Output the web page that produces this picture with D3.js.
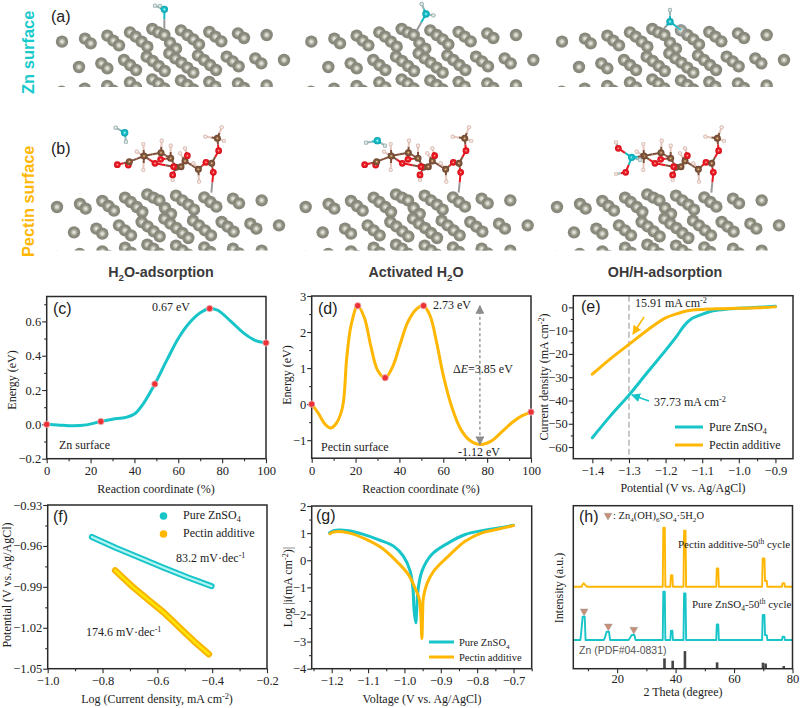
<!DOCTYPE html>
<html><head><meta charset="utf-8">
<script src="https://cdn.jsdelivr.net/npm/d3@7"></script>
<style>html,body{margin:0;padding:0;background:#fff}svg{display:block}text{font-family:"Liberation Serif",serif;fill:#222}</style>
</head><body><svg id="c" width="800" height="708"></svg>
<script>
const TEAL="#17c4c8", AMBER="#ffb703", RED="#ee2f36", FRAME="#2a2a2a";
// ---- panel c
const cX=[0,5,12,18,24.7,30,36,40,44,49.3,55,60,65,70,74.3,78,84,90,95,100];
const cY=[0,-0.003,-0.008,-0.003,0.017,0.03,0.04,0.06,0.12,0.235,0.38,0.5,0.59,0.65,0.675,0.665,0.6,0.53,0.49,0.475];
const cDotsX=[0,24.7,49.3,74.3,100], cDotsY=[0,0.017,0.235,0.675,0.475];
// ---- panel d
const dX=[0,3,6,8.5,11,14,16,18,21,24,27,30,33.5,37,40,44,48,51,54,57,60,64,68,72,77,82,87,92,96,100];
const dY=[0,-0.25,-0.55,-0.66,-0.55,-0.1,1.3,2.2,2.73,2.4,1.6,0.95,0.73,1.05,1.6,2.3,2.65,2.73,2.45,1.7,0.8,-0.1,-0.7,-1.0,-1.12,-1.02,-0.75,-0.48,-0.32,-0.22];
const dDotsX=[0,21,33.5,51,100], dDotsY=[0,2.73,0.73,2.73,-0.22];
// ---- panel e
const eTealX=[-1.4,-1.35,-1.3,-1.25,-1.2,-1.17,-1.15,-1.13,-1.1,-1.07,-1.03,-1,-0.95,-0.9];
const eTealY=[-56,-46.5,-37.7,-28,-18.5,-12.5,-8,-5,-3,-1.5,-0.7,-0.4,0,0.5];
const eAmberX=[-1.4,-1.35,-1.3,-1.25,-1.2,-1.17,-1.14,-1.1,-1.05,-1,-0.95,-0.9];
const eAmberY=[-28.7,-22,-15.9,-9.8,-4.5,-2.8,-1.5,-0.9,-0.6,-0.4,-0.2,0.2];
// ---- panel f
const fTealX=[-0.839,-0.75,-0.66,-0.577,-0.49,-0.402];
const fTealY=[-0.9534,-0.9615,-0.969,-0.976,-0.983,-0.9895];
const fAmberX=[-0.754,-0.69,-0.63,-0.577,-0.51,-0.46,-0.412];
const fAmberY=[-0.978,-0.99,-1.0,-1.0087,-1.0215,-1.031,-1.0394];
// ---- panel g
const gTealX=[-1.206,-1.195,-1.154,-1.117,-1.072,-1.03,-1.003,-0.984,-0.976,-0.974,-0.969,-0.966,-0.963,-0.952,-0.925,-0.879,-0.833,-0.787,-0.741,-0.7];
const gTealY=[1.01,1.09,1.09,0.97,0.76,0.52,0.15,-0.41,-1.14,-1.76,-2.31,-1.76,-1.14,-0.41,0.21,0.64,0.95,1.09,1.19,1.29];
const gAmberX=[-1.205,-1.195,-1.154,-1.108,-1.062,-1.017,-0.989,-0.971,-0.96,-0.955,-0.952,-0.95,-0.948,-0.939,-0.92,-0.879,-0.833,-0.787,-0.741,-0.7];
const gAmberY=[0.97,1.04,1.01,0.79,0.45,-0.1,-0.53,-1.02,-1.39,-2.0,-2.89,-2.0,-1.39,-0.9,-0.41,0.15,0.7,1.01,1.15,1.28];
// ---- panel h (stacked, arbitrary units)
const hPectinX=[5,7.9,8.1,8.5,9.2,9.6,35.6,35.8,36.3,36.5,38.2,38.4,38.9,39.1,42.7,42.9,43.4,43.6,53.9,54.1,54.6,54.8,69.6,69.8,70.4,70.6,71.2,71.4,76.4,76.6,77.2,77.4,80];
const hPectinY=[50.3,50.3,51.5,52.4,51.2,50.3,50.3,86.5,86.5,50.3,50.3,57.3,57.3,50.3,50.3,84.7,84.7,50.3,50.3,61.5,61.5,50.3,50.3,67.7,67.7,53.8,53.8,50.3,50.3,52.5,52.5,50.3,50.3];
const hTealX=[5,7.4,7.7,8.2,8.9,9.2,15.4,15.8,16.4,17.2,17.6,23.9,24.3,25,25.9,26.3,35.6,35.8,36.3,36.5,38.2,38.4,38.9,39.1,42.7,42.9,43.4,43.6,53.9,54.1,54.6,54.8,69.6,69.8,70.4,70.6,71.2,71.4,76.4,76.6,77.2,77.4,80];
const hTealY=[17.6,17.6,22,31.9,31.9,17.6,17.6,19,22.7,22.7,17.6,17.6,18.6,20.7,20.7,17.6,17.6,47.2,47.2,17.6,17.6,23.3,23.3,17.6,17.6,46.2,46.2,17.6,17.6,27.2,27.2,17.6,17.6,32.9,32.9,20.6,20.6,17.6,17.6,19.6,19.6,17.6,17.6];
const hBarsX=[36.2,39,43.2,54.2,69.9,70.8,77];
const hBarsY=[6.3,4.9,10.8,3.9,3.7,3.2,1.6];
const hMarkX=[8.7,17,25.7], hMarkY=[35.2,26,24];
// ---- atomistic panels (coordinates in a 1200-wide frame per row, drawn through atomX / atomY)
const latticeX=[186,255,272,322,340,357,390,407,425,442,457,475,493,510,528,543,562,580,597,628,646,664,714,732,800,
 237,304,322,372,390,408,440,458,476,494,508,526,544,562,580,594,612,630,648,680,698,716,766,784,852,
 185,254,322,340,390,408,457,475,493,543,562,580,628,646,714,732,800];
const latticeY=[125,116,130,107,122,136,97,110,125,140,87,97,105,128,146,91,105,118,133,96,110,124,100,114,105,
 201,190,205,180,195,210,170,183,198,213,160,175,188,203,218,166,180,195,210,170,184,199,175,190,180,
 275,266,258,272,247,262,238,250,265,241,255,268,246,260,250,264,256];
const latticeShiftsA=[[0,0],[748,0],[1500,0]];
const latticeShiftsB=[[-15,496],[731,496],[1485,496]];
const molIds=["O1","O2","C1","C2","C3","C4","C5","C6","C10","O3","O4","O5","O6","O10","C7","O7","C8","O8","O9","C9","H1","H2","H3","H4","H5","H6","H7","H8","H9","H10","H11","H12","H13"];
const molEls=["O","O","C","C","C","C","C","C","C","O","O","O","O","O","C","O","C","O","O","C","H","H","H","H","H","H","H","H","H","H","H","H","H"];
const molX=[352,385,388,432,483,512,528,543,555,465,482,562,518,521,595,618,635,640,656,652,430,410,430,485,512,540,555,518,597,616,665,672,580];
const molY=[494,495,485,468,458,475,502,500,483,490,478,467,525,500,508,487,490,517,452,415,432,455,510,422,437,460,445,540,545,410,382,423,490];
const molBonds=[["O1","C1"],["O2","C1"],["C1","C2"],["C2","C3"],["C2","O3"],["O3","C5"],["C3","C4"],["C4","O4"],["C4","C5"],["C5","C6"],["C6","C10"],["C10","O5"],["C5","O6"],["C5","O10"],["C10","C7"],["C7","O7"],["O7","C8"],["C8","O8"],["C8","O9"],["O9","C9"],["C2","H1"],["C2","H2"],["C2","H3"],["C3","H4"],["C4","H5"],["C10","H6"],["O5","H7"],["O6","H8"],["C7","H9"],["C9","H10"],["C9","H11"],["C9","H12"],["C7","H13"]];
const adsEls=[["W","H","H"],["W","H","H"],["W","H","H2"],["W","H","H"],["W","H","H"],["O","H","O","H","W","H"]];
const adsX=[[493,465,480],[1278,1265,1300],[2010,2010,2043],[374,347,378],[1132,1098,1155],[1855,1848,1877,1848,1895,1920]];
const adsY=[[28,17,18],[42,12,46],[65,30,90],[398,383,425],[422,428,437],[445,427,517,522,472,480]];
const adsBonds=[[[0,1],[0,2]],[[0,1],[0,2]],[[0,1],[0,2]],[[0,1],[0,2]],[[0,1],[0,2]],[[4,0],[0,1],[4,2],[2,3],[4,5]]];
const tetherX=[[493,493],[1278,1250],[2010,1990]], tetherY=[[28,88],[42,92],[65,88]];
const molShifts=[0,742,1500];

const svg=d3.select("#c");
const defs=svg.append("defs");
function grad(id,stops){const g=defs.append("radialGradient").attr("id",id).attr("cx","50%").attr("cy","50%").attr("r","50%");
 stops.forEach(([o,c])=>g.append("stop").attr("offset",o).attr("stop-color",c));}
grad("zn",[["0%","#f2f2ec"],["30%","#c4c4b8"],["60%","#8c8c7e"],["100%","#85857a"]]);
grad("O",[["0%","#ffc8c0"],["35%","#ef2028"],["100%","#d2101a"]]);
grad("C",[["0%","#f3cf9f"],["40%","#8a5c3e"],["100%","#6a4530"]]);
grad("H",[["0%","#ffffff"],["50%","#efd9d2"],["100%","#c9a89e"]]);
grad("W",[["0%","#d8ffff"],["40%","#18c2cc"],["100%","#0c9faa"]]);
grad("Hw",[["0%","#ffffff"],["50%","#c6d6d6"],["100%","#84a0a0"]]);
const atomX=d3.scaleLinear().domain([0,1200]).range([0,400]);
const atomY=d3.scaleLinear().domain([0,1200]).range([0,400]);
const elR={O:3.4,C:3.5,H:2.1,W:3.7,Hw:2.2,H2:5};
const elC={O:"#e9161f",C:"#80513a",H:"#e6c6bc",W:"#14bcc8",Hw:"#9ab4b4",H2:"#14bcc8"};
function clip(id,x,y,w,h){defs.append("clipPath").attr("id",id).append("rect").attr("x",x).attr("y",y).attr("width",w).attr("height",h);}
clip("clipA",0,0,800,87);clip("clipB",0,120,800,130.5);
function lattice(g,shift){g.selectAll(null).data(latticeX.map((x,i)=>[x+shift[0],latticeY[i]+shift[1]])).join("circle")
 .attr("cx",d=>atomX(d[0])).attr("cy",d=>atomY(d[1])).attr("r",6.2).attr("fill","url(#zn)");}
const gA=svg.append("g").attr("clip-path","url(#clipA)"), gB=svg.append("g").attr("clip-path","url(#clipB)");
latticeShiftsA.forEach(s=>lattice(gA,s));latticeShiftsB.forEach(s=>lattice(gB,s));
function bond(g,x1,y1,x2,y2,c1,c2,w){const mx=(x1+x2)/2,my=(y1+y2)/2;
 g.append("line").attr("x1",atomX(x1)).attr("y1",atomY(y1)).attr("x2",atomX(mx)).attr("y2",atomY(my)).attr("stroke",c1).attr("stroke-width",w||2);
 g.append("line").attr("x1",atomX(mx)).attr("y1",atomY(my)).attr("x2",atomX(x2)).attr("y2",atomY(y2)).attr("stroke",c2).attr("stroke-width",w||2);}
function atom(g,el,x,y){const fill=el==="H2"?"#fff":("url(#"+el+")");
 g.append("circle").attr("cx",atomX(x)).attr("cy",atomY(y)).attr("r",elR[el]).attr("fill",fill).attr("fill-opacity",el==="H2"?0.15:1);
 if(el==="H2")g.append("circle").attr("cx",atomX(x)).attr("cy",atomY(y)).attr("r",elR[el]).attr("fill","none").attr("stroke","#8d9aa5").attr("stroke-width",1);}
function molecule(shift,skip){const g=svg.append("g");const idx=Object.fromEntries(molIds.map((k,i)=>[k,i]));
 const sk=new Set(skip);
 molBonds.forEach(([a,b])=>{ if(sk.has(a)||sk.has(b))return;
  const i=idx[a],j=idx[b];bond(g,molX[i]+shift,molY[i],molX[j]+shift,molY[j],elC[molEls[i]],elC[molEls[j]]);});
 const o=idx.O8;bond(g,molX[o]+shift,molY[o],molX[o]+shift-6,578,"#e9161f","#9a9a9a",2);
 molIds.forEach((k,i)=>{if(!sk.has(k))atom(g,molEls[i],molX[i]+shift,molY[i]);});}
molShifts.forEach((s,i)=>molecule(s,i===2?["O1","O2","C1"]:[]));
tetherX.forEach((tx,i)=>{const g=svg.append("g");bond(g,tx[0],tetherY[i][0],tx[1],tetherY[i][1],elC.W,"#9a9a9a",2);});
adsX.forEach((xs,i)=>{const g=svg.append("g");
 adsBonds[i].forEach(([a,b])=>{const ea=adsEls[i][a],eb=adsEls[i][b];
  const col=e=>e==="H"?"#9ab4b4":elC[e];
  bond(g,xs[a],adsY[i][a],xs[b],adsY[i][b],col(ea),col(eb));});
 xs.forEach((x,k)=>{let e=adsEls[i][k];if(e==="H"&&(i!==5||k===5))e="Hw";atom(g,e,x,adsY[i][k]);});
 if(i===5)bond(g,xs[4],adsY[i][4],1932,468,elC.W,elC.C);});

// rich text helper: parts are strings or {sub:...}/{sup:...}/{i:...}
function rich(sel,parts){let pending=0;const fs=parseFloat(sel.attr("font-size"));
 parts.forEach(p=>{const t=sel.append("tspan");
  if(typeof p==="string"){t.text(p).attr("dy",pending);pending=0;}
  else if(p.sub!==undefined){t.text(p.sub).attr("font-size",fs*0.68).attr("dy",pending+fs*0.28);pending=-fs*0.28;}
  else if(p.sup!==undefined){t.text(p.sup).attr("font-size",fs*0.68).attr("dy",pending-fs*0.36);pending=fs*0.36;}
  else if(p.i!==undefined){t.text(p.i).attr("font-style","italic").attr("dy",pending);pending=0;}});
 return sel;}
function label(x,y,parts,o={}){const s=svg.append("text").attr("x",x).attr("y",y).attr("font-size",o.size||12).attr("text-anchor",o.anchor||"start");
 if(o.rot)s.attr("transform",`rotate(${o.rot} ${x} ${y})`);
 if(o.sans)s.style("font-family",'"Liberation Sans",sans-serif');
 if(o.bold)s.attr("font-weight","bold");
 if(o.fill)s.style("fill",o.fill);
 return rich(s,Array.isArray(parts)?parts:[parts]);}

const minus=s=>String(s).replace("-","\u2212");
function panel(o){const x=d3.scaleLinear().domain(o.xD).range([o.l,o.r]),y=d3.scaleLinear().domain(o.yD).range([o.b,o.t]);
 const g=svg.append("g");
 const pad=o.pad===undefined?3:o.pad;
 const mk=(ax,vals,size,fmt,tr,p)=>{const a=g.append("g").attr("transform",tr).call(ax.tickValues(vals).tickSize(size).tickSizeOuter(0).tickPadding(p).tickFormat(fmt));
  a.select(".domain").remove();a.selectAll("line").attr("stroke",FRAME).attr("stroke-width",1.1);
  a.selectAll("text").attr("font-size",12.5).style("font-family",'"Liberation Serif",serif').style("fill","#222");};
 mk(d3.axisBottom(x),o.xM,2.5,()=>"",`translate(0,${o.b})`,pad);
 mk(d3.axisBottom(x),o.xT,4.5,o.xF,`translate(0,${o.b})`,pad);
 if(o.yT){mk(d3.axisLeft(y),o.yM,2.5,()=>"",`translate(${o.l},0)`,1);mk(d3.axisLeft(y),o.yT,4.5,o.yF,`translate(${o.l},0)`,1);}
 const cid="cp"+o.id;clip(cid,o.l,o.t,o.r-o.l,o.b-o.t);
 const body=g.append("g").attr("clip-path",`url(#${cid})`);
 g.append("rect").attr("x",o.l).attr("y",o.t).attr("width",o.r-o.l).attr("height",o.b-o.t).attr("fill","none").attr("stroke",FRAME).attr("stroke-width",1.5);
 const top=g.append("g");
 return {x,y,g,body,top};}
function line(sel,xs,ys,p,color,w,curve){return sel.append("path").attr("d",d3.line().x(i=>p.x(xs[i])).y(i=>p.y(ys[i])).curve(curve||d3.curveCatmullRom.alpha(0.5))(d3.range(xs.length)))
 .attr("fill","none").attr("stroke",color).attr("stroke-width",w).attr("stroke-linecap","round").attr("stroke-linejoin","round");}
function dots(sel,xs,ys,p){sel.selectAll(null).data(d3.range(xs.length)).join("circle").attr("cx",i=>p.x(xs[i])).attr("cy",i=>p.y(ys[i])).attr("r",3.2).attr("fill",RED).attr("stroke","#eac0c0").attr("stroke-width",0.8);}
const arrowHead=(id,col)=>{const m=defs.append("marker").attr("id",id).attr("viewBox","0 0 10 10").attr("refX",9).attr("refY",5).attr("markerWidth",9).attr("markerHeight",9).attr("markerUnits","userSpaceOnUse").attr("orient","auto-start-reverse");
 m.append("path").attr("d","M0,0L10,5L0,10Z").attr("fill",col);};
arrowHead("aG","#8c8c8c");arrowHead("aT",TEAL);arrowHead("aA",AMBER);
const f1=d3.format(".1f"),f2=d3.format(".2f");

// (c)
const pc=panel({id:"c",l:46.7,r:266,t:296.5,b:458.7,xD:[0,100],yD:[-0.2,0.745],xT:[0,20,40,60,80,100],xM:[10,30,50,70,90],xF:d3.format("d"),
 yT:[-0.2,0,0.2,0.4,0.6],yM:[-0.1,0.1,0.3,0.5,0.7],yF:v=>minus(f1(v))});
line(pc.top,cX,cY,pc,TEAL,3);dots(pc.top,cDotsX,cDotsY,pc);
// (d)
const pd=panel({id:"d",l:311.7,r:531,t:296,b:458.2,xD:[0,100],yD:[-1.5,3],xT:[0,20,40,60,80,100],xM:[10,30,50,70,90],xF:d3.format("d"),
 yT:[-1,0,1,2,3],yM:[-0.5,0.5,1.5,2.5],yF:v=>minus(d3.format("d")(v))});
line(pd.top,dX,dY,pd,AMBER,3);dots(pd.top,dDotsX,dDotsY,pd);
const arrowDX=[76.7,76.7], arrowDY=[2.73,-1.12];
pd.top.append("line").attr("x1",pd.x(arrowDX[0])).attr("x2",pd.x(arrowDX[1])).attr("y1",pd.y(arrowDY[0])).attr("y2",pd.y(arrowDY[1]))
 .attr("stroke","#8c8c8c").attr("stroke-width",1.3).attr("stroke-dasharray","3 2.5").attr("marker-start","url(#aG)").attr("marker-end","url(#aG)");
// (e)
const pe=panel({id:"e",l:573.3,r:793,t:295.7,b:458.7,xD:[-1.452,-0.852],yD:[-65,5],xT:[-1.4,-1.3,-1.2,-1.1,-1,-0.9],xM:[-1.35,-1.25,-1.15,-1.05,-0.95],xF:f1,
 yT:[-60,-50,-40,-30,-20,-10,0],yM:[-55,-45,-35,-25,-15,-5],yF:d3.format("d")});
pe.body.append("line").attr("x1",pe.x(-1.3)).attr("x2",pe.x(-1.3)).attr("y1",pe.y(5)).attr("y2",pe.y(-65)).attr("stroke","#b5b5b5").attr("stroke-width",1.5).attr("stroke-dasharray","6 3");
line(pe.top,eTealX,eTealY,pe,TEAL,3);line(pe.top,eAmberX,eAmberY,pe,AMBER,3);
pe.top.append("line").attr("x1",644).attr("y1",317).attr("x2",633).attr("y2",334).attr("stroke",AMBER).attr("stroke-width",1.5).attr("marker-end","url(#aA)");
pe.top.append("line").attr("x1",649).attr("y1",401).attr("x2",632).attr("y2",395).attr("stroke",TEAL).attr("stroke-width",1.5).attr("marker-end","url(#aT)");
[[TEAL,427],[AMBER,445]].forEach(([c,y])=>pe.top.append("line").attr("x1",675).attr("x2",703).attr("y1",y).attr("y2",y).attr("stroke",c).attr("stroke-width",3));
// (f)
const pf=panel({id:"f",l:47.7,r:267,t:505,b:668.7,xD:[-1,-0.2],yD:[-1.05,-0.93],xT:[-1,-0.8,-0.6,-0.4,-0.2],xM:[-0.9,-0.7,-0.5,-0.3],xF:v=>minus(f1(v)),
 yT:[-1.05,-1.02,-0.99,-0.96,-0.93],yM:[-1.035,-1.005,-0.975,-0.945],yF:v=>minus(f2(v))});
line(pf.top,fTealX,fTealY,pf,TEAL,6,d3.curveLinear);line(pf.top,fTealX,fTealY,pf,"#b5f5f3",2.2,d3.curveLinear);
line(pf.top,fAmberX,fAmberY,pf,"#f7b500",6.5,d3.curveLinear);line(pf.top,fAmberX,fAmberY,pf,"#ffe600",2.4,d3.curveLinear);
[[TEAL,516],[AMBER,534]].forEach(([c,y])=>pf.top.append("circle").attr("cx",163.5).attr("cy",y).attr("r",3.8).attr("fill",c));
// (g)
const pg=panel({id:"g",l:311.7,r:531.7,t:506,b:668.7,xD:[-1.255,-0.65],yD:[-4,2],xT:[-1.2,-1.1,-1,-0.9,-0.8,-0.7],xM:[-1.25,-1.15,-1.05,-0.95,-0.85,-0.75,-0.65],xF:f1,
 yT:[-4,-3,-2,-1,0,1,2],yM:[-3.5,-2.5,-1.5,-0.5,0.5,1.5],yF:d3.format("d")});
line(pg.top,gTealX,gTealY,pg,TEAL,3,d3.curveCatmullRom.alpha(0.5));line(pg.top,gAmberX,gAmberY,pg,AMBER,3,d3.curveCatmullRom.alpha(0.5));
[[TEAL,642],[AMBER,657]].forEach(([c,y])=>pg.top.append("line").attr("x1",429).attr("x2",454).attr("y1",y).attr("y2",y).attr("stroke",c).attr("stroke-width",3));
// (h)
const ph=panel({id:"h",l:573.3,r:792.5,t:505.7,b:668.7,xD:[5,80],yD:[0,100],xT:[20,40,60,80],xM:[10,30,50,70],xF:d3.format("d"),pad:1});
ph.body.selectAll(null).data(d3.range(hBarsX.length)).join("rect").attr("x",i=>ph.x(hBarsX[i])-1.3).attr("width",2.6).attr("y",i=>ph.y(hBarsY[i])).attr("height",i=>ph.y(0)-ph.y(hBarsY[i])).attr("fill","#444");
line(ph.body,hPectinX,hPectinY,ph,AMBER,1.9,d3.curveLinear);line(ph.body,hTealX,hTealY,ph,TEAL,1.9,d3.curveLinear);
const tri=d3.symbol().type(d3.symbolTriangle).size(26);
const markFill=(x,y)=>ph.top.append("path").attr("d",tri()).attr("transform",`translate(${x},${y}) rotate(180)`).attr("fill","#c98f76").attr("stroke","#9a9a9a").attr("stroke-width",0.5);
hMarkX.forEach((v,i)=>markFill(ph.x(v),ph.y(hMarkY[i])));
markFill(608,515.5);

// text: row captions
label(34,94,"Zn surface",{rot:-90,size:16.5,sans:1,bold:1,fill:"#19c9cc"});
label(34,257,"Pectin surface",{rot:-90,size:16.3,sans:1,bold:1,fill:"#ffb703"});
label(51,22,"(a)",{size:16,sans:1});label(51,154,"(b)",{size:16,sans:1});
const cap={size:14.3,sans:1,bold:1,fill:"#3a3a3a",anchor:"middle"};
label(161,277,["H",{sub:"2"},"O-adsorption"],cap);
label(416,277,["Activated H",{sub:"2"},"O"],cap);
label(665,277,["OH/H-adsorption"],cap);
// panel letters
const pl={size:16,sans:1};
label(53,314,"(c)",pl);label(318,314,"(d)",pl);label(581,312,"(e)",pl);label(53,522,"(f)",pl);label(316,521,"(g)",pl);label(579,522,"(h)",pl);
// axis titles
const at={size:12,anchor:"middle"};
label(156,493,"Reaction coordinate (%)",at);label(421,493,"Reaction coordinate (%)",at);
label(683,492,"Potential (V vs. Ag/AgCl)",at);
label(157,703,["Log (Current density, mA cm",{sup:"-2"},")"],at);
label(422,703,"Voltage (V vs. Ag/AgCl)",at);
label(683,696,"2 Theta (degree)",at);
const ay={size:12,anchor:"middle",rot:-90};
label(16,380,"Energy (eV)",ay);label(291,375,"Energy (eV)",ay);
label(548,377,["Current density (mA cm",{sup:"-2"},")"],ay);
label(11,585,"Potential (V vs. Ag/AgCl)",ay);
label(292,587,["Log |i(mA cm",{sup:"-2"},")|"],ay);
label(563,588,"Intensity (a.u.)",ay);
// annotations
label(152,311,"0.67 eV");label(59,449,"Zn surface");
label(433,309,"2.73 eV");label(453,373,["\u0394",{i:"E"},"=3.85 eV"]);label(458,456,"-1.12 eV");label(321,451,"Pectin surface");
label(635,307,["15.91 mA cm",{sup:"-2"}]);label(654,406,["37.73 mA cm",{sup:"-2"}]);
label(709,431,["Pure ZnSO",{sub:"4"}]);label(709,449,"Pectin additive");
label(176,562,["83.2 mV\u00b7dec",{sup:"-1"}]);label(86,636,["174.6 mV\u00b7dec",{sup:"-1"}]);
label(183,519,["Pure ZnSO",{sub:"4"}]);label(183,537,"Pectin additive");
label(459,646,["Pure ZnSO",{sub:"4"}],{size:10.5});label(459,661,"Pectin additive",{size:10.5});
label(613,519,[": Zn",{sub:"4"},"(OH)",{sub:"6"},"SO",{sub:"4"},"\u00b75H",{sub:"2"},"O"],{size:10.5});
label(678,548,["Pectin additive-50",{sup:"th"}," cycle"],{size:11});
label(692,608,["Pure ZnSO",{sub:"4"},"-50",{sup:"th"}," cycle"],{size:11});
label(579,654,"Zn (PDF#04-0831)",{size:10.5,sans:1,fill:"#555"});
</script></body></html>
